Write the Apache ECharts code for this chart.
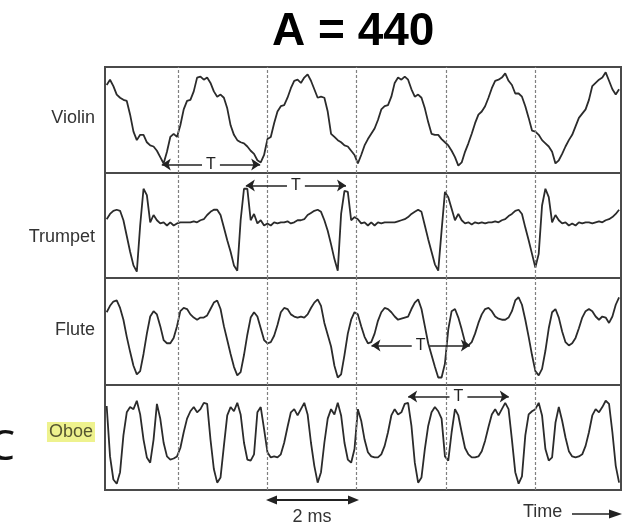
<!DOCTYPE html>
<html>
<head>
<meta charset="utf-8">
<script src="https://cdn.jsdelivr.net/npm/echarts@6/dist/echarts.min.js"></script>
<style>
  html, body { margin: 0; padding: 0; background: #fff; }
  #main { width: 625px; height: 524px; }
</style>
</head>
<body>
<div id="main"></div>
<script>
// waveform samples (0 = bottom of panel, 100 = top), one every DT ms starting at T0
var T0 = 0.0375, DT = 0.0749;
var violin = [
  83,88,82,74,71,69,68,55,39,31, 36,36,29,26,25,21,15,9,20,34,
  37,34,45,60,68,69,77,90,91,88, 90,85,77,72,74,71,61,45,36,31,
  29,28,25,21,18,12,10,17,32,34, 47,58,63,64,71,80,87,88,85,90,
  93,87,79,71,72,71,58,37,34,31, 29,26,25,21,17,9,17,26,32,37,
  42,50,60,63,64,72,85,90,88,91, 88,79,72,74,71,61,48,37,36,36,
  32,29,26,21,15,7,10,20,28,37, 47,55,58,63,71,80,87,88,90,94,
  87,83,75,75,72,63,52,40,39,36, 31,28,25,20,9,12,18,25,31,36,
  44,52,56,60,69,82,85,88,90,95, 87,79,74,79
];
var trumpet = [
  56,61,64,65,64,55,40,25,12,6, 50,85,79,53,60,55,52,53,50,53,
  50,52,53,53,53,53,54,53,55,56, 60,63,65,65,60,48,36,25,12,7,
  55,85,85,55,61,52,55,50,52,50, 53,52,53,53,54,52,53,55,55,56,
  60,62,64,65,63,55,45,32,18,7, 61,83,82,55,58,56,52,53,50,53,
  50,53,52,53,53,53,53,54,55,56, 58,61,63,65,63,50,37,25,13,7,
  45,82,77,66,55,61,55,52,53,51, 53,52,53,52,53,53,54,53,55,56,
  59,61,64,65,61,48,36,23,10,23, 69,85,77,53,60,55,52,53,50,52,
  50,53,52,53,53,52,53,54,53,55, 56,58,61,65
];
var flute = [
  68,74,78,79,72,61,45,31,18,10, 13,29,48,64,69,66,55,42,39,39,
  44,55,69,72,71,66,63,61,63,63, 65,71,77,79,71,55,42,29,17,9,
  12,28,47,63,68,64,53,42,39,40, 46,56,68,72,71,66,64,63,64,63,
  66,72,77,80,74,58,47,36,18,7, 10,28,48,61,68,66,55,45,39,40,
  48,60,68,72,71,68,64,61,62,63, 64,71,77,80,71,55,39,28,17,7,
  7,20,52,69,71,63,52,40,37,40, 48,58,66,71,72,69,64,62,61,61,
  63,69,79,82,75,61,45,28,13,9, 15,32,53,68,71,63,50,40,37,39,
  44,53,63,69,71,69,64,61,64,63, 58,64,75,82
];
var oboe = [
  80,32,10,6,17,52,74,79,77,85, 72,48,31,26,48,82,68,45,32,29,
  30,32,40,55,68,75,79,74,77,83, 82,48,20,7,12,42,71,79,75,83,
  72,45,29,28,34,74,79,58,36,31, 32,31,34,45,60,74,77,71,77,83,
  72,45,23,7,17,45,68,77,72,83, 71,45,29,26,39,77,66,48,36,32,
  31,31,34,42,55,71,77,72,74,82, 83,61,26,7,12,39,61,74,79,75,
  68,32,28,55,77,71,55,40,34,31, 31,32,37,47,60,72,77,71,77,83,
  77,48,17,6,13,52,72,75,77,83, 71,39,28,31,64,79,66,50,37,32,
  31,32,34,42,55,71,77,74,79,85, 82,55,23,7
];
var instruments = ['Violin', 'Trumpet', 'Flute', 'Oboe'];
var waves = [violin, trumpet, flute, oboe];
// dotted time marks (ms)
var timeMarks = [1.63, 3.63, 5.63, 7.63, 9.63];
// period arrows: [start ms, end ms, level]
var periods = [[1.27, 3.47, 8], [3.15, 5.39, 88], [5.96, 8.16, 37], [6.78, 9.03, 89]];

var panelTops = [67, 173, 278, 385];
var panelHeights = [106, 105, 107, 105];
var labelY = [118, 237, 330, 432];

var chart = echarts.init(document.getElementById('main'));

var grids = [], xAxes = [], yAxes = [], series = [];
waves.forEach(function (w, k) {
  grids.push({
    left: 105, width: 516, top: panelTops[k], height: panelHeights[k],
    show: true, borderColor: '#4a4a4a', borderWidth: 2, backgroundColor: 'transparent'
  });
  xAxes.push({ type: 'value', gridIndex: k, min: 0, max: 11.54, show: false });
  yAxes.push({ type: 'value', gridIndex: k, min: 0, max: 100, show: false });

  var p = periods[k];
  var mid = (p[0] + p[1]) / 2;
  var arrowStyle = { color: '#222', type: 'solid', width: 1.6 };
  var lines = timeMarks.map(function (t) { return { xAxis: t }; });
  lines.push([
    { coord: [p[0], p[2]], symbol: 'arrow', symbolSize: 9, lineStyle: arrowStyle },
    { coord: [mid - 0.2, p[2]], symbol: 'none', lineStyle: arrowStyle }
  ]);
  lines.push([
    { coord: [mid + 0.2, p[2]], symbol: 'none', lineStyle: arrowStyle },
    { coord: [p[1], p[2]], symbol: 'arrow', symbolSize: 9, lineStyle: arrowStyle }
  ]);

  series.push({
    name: instruments[k],
    type: 'line',
    xAxisIndex: k, yAxisIndex: k,
    showSymbol: false,
    smooth: false,
    lineStyle: { color: '#2b2b2b', width: 1.8 },
    data: w.map(function (v, i) { return [T0 + i * DT, v]; }),
    markLine: {
      silent: true,
      symbol: ['none', 'none'],
      label: { show: false },
      lineStyle: { color: '#808080', type: [3, 2], width: 1.2 },
      data: lines,
      animation: false
    },
    markPoint: {
      silent: true,
      symbol: 'circle', symbolSize: 1,
      itemStyle: { color: 'rgba(0,0,0,0)' },
      label: { show: true, position: 'inside', formatter: 'T', color: '#222', fontSize: 16, fontFamily: 'Liberation Sans' },
      data: [{ coord: [mid, p[2]] }],
      animation: false
    }
  });
});

var labelFont = '18px "Liberation Sans", Arial, sans-serif';
var graphics = instruments.map(function (name, k) {
  var st = { text: name, x: 95, y: labelY[k], font: labelFont, fill: '#333', align: 'right', verticalAlign: 'middle' };
  if (name === 'Oboe') {
    st.fill = '#555530';
    st.backgroundColor = '#eef28e';
    st.padding = [1, 2];
  }
  return { type: 'text', style: st };
});
graphics.push(
  { type: 'text', style: { text: 'C', x: 15, y: 448, font: '42px "Noto Sans", sans-serif', fill: '#111', align: 'right', verticalAlign: 'middle' } },
  { type: 'line', shape: { x1: 270, y1: 500, x2: 355, y2: 500 }, style: { stroke: '#222', lineWidth: 2 } },
  { type: 'polygon', shape: { points: [[266, 500], [277, 495.5], [277, 504.5]] }, style: { fill: '#222' } },
  { type: 'polygon', shape: { points: [[359, 500], [348, 495.5], [348, 504.5]] }, style: { fill: '#222' } },
  { type: 'text', style: { text: '2 ms', x: 312, y: 517, font: labelFont, fill: '#333', align: 'center', verticalAlign: 'middle' } },
  { type: 'text', style: { text: 'Time', x: 523, y: 512, font: labelFont, fill: '#333', align: 'left', verticalAlign: 'middle' } },
  { type: 'line', shape: { x1: 572, y1: 514, x2: 612, y2: 514 }, style: { stroke: '#222', lineWidth: 1.5 } },
  { type: 'polygon', shape: { points: [[622, 514], [609, 509.5], [609, 518.5]] }, style: { fill: '#222' } }
);

var option = {
  backgroundColor: '#fff',
  animation: false,
  title: {
    text: 'A = 440',
    left: 267, top: 4,
    textStyle: { fontSize: 46, fontWeight: 'bold', color: '#000', fontFamily: 'Liberation Sans' }
  },
  grid: grids,
  xAxis: xAxes,
  yAxis: yAxes,
  series: series,
  graphic: graphics
};
chart.setOption(option);
</script>
</body>
</html>
